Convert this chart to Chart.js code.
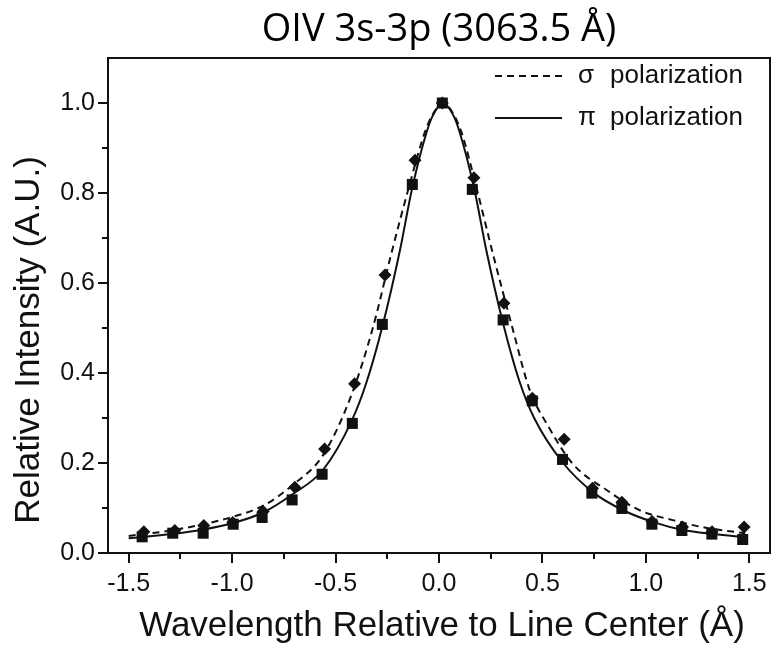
<!DOCTYPE html>
<html>
<head>
<meta charset="utf-8">
<script src="https://cdn.jsdelivr.net/npm/chart.js@4/dist/chart.umd.min.js"></script>
<style>
	html, body { margin: 0; padding: 0; background: #fff; }
	#wrap { width: 772px; height: 649px; }
</style>
</head>
<body>
<div id="wrap"><canvas id="lineProfile" width="772" height="649"></canvas></div>
<script>
// Measured points (squares = pi, diamonds = sigma)
const piX = [-1.435, -1.287, -1.140, -0.995, -0.855, -0.710, -0.565, -0.419, -0.274, -0.129, 0.016, 0.161, 0.310, 0.451, 0.597, 0.739, 0.884, 1.029, 1.174, 1.319, 1.468];
const piY = [0.036, 0.044, 0.044, 0.064, 0.079, 0.118, 0.175, 0.288, 0.508, 0.819, 1.000, 0.808, 0.518, 0.338, 0.208, 0.133, 0.099, 0.064, 0.050, 0.042, 0.030];

const sigmaX = [-1.427, -1.277, -1.137, -0.997, -0.850, -0.697, -0.553, -0.408, -0.261, -0.116, 0.016, 0.169, 0.314, 0.451, 0.605, 0.742, 0.884, 1.030, 1.177, 1.320, 1.475];
const sigmaY = [0.047, 0.050, 0.061, 0.068, 0.092, 0.146, 0.231, 0.376, 0.618, 0.873, 1.000, 0.834, 0.555, 0.344, 0.253, 0.144, 0.113, 0.070, 0.058, 0.047, 0.058];

// Fitted profiles
const piFitX = [-1.50, -1.29, -1.14, -1.00, -0.85, -0.71, -0.56, -0.42, -0.35, -0.27, -0.19, -0.13, -0.06, -0.03, 0.02, 0.07, 0.10, 0.17, 0.23, 0.31, 0.39, 0.46, 0.60, 0.75, 0.89, 1.04, 1.18, 1.33, 1.48];
const piFitY = [0.033, 0.042, 0.052, 0.066, 0.090, 0.130, 0.185, 0.296, 0.380, 0.510, 0.670, 0.810, 0.935, 0.972, 1.000, 0.972, 0.935, 0.810, 0.670, 0.510, 0.380, 0.300, 0.200, 0.133, 0.095, 0.068, 0.051, 0.042, 0.035];

const sigmaFitX = [-1.50, -1.27, -1.00, -0.85, -0.71, -0.56, -0.42, -0.32, -0.23, -0.145, -0.07, -0.03, 0.02, 0.07, 0.11, 0.18, 0.26, 0.355, 0.44, 0.52, 0.645, 0.81, 0.97, 1.13, 1.29, 1.48];
const sigmaFitY = [0.038, 0.052, 0.080, 0.105, 0.150, 0.218, 0.355, 0.500, 0.666, 0.814, 0.933, 0.975, 1.000, 0.975, 0.933, 0.814, 0.666, 0.500, 0.360, 0.288, 0.199, 0.140, 0.095, 0.073, 0.056, 0.044];

// Axis ticks
const xTicks = [-1.5, -1.0, -0.5, 0.0, 0.5, 1.0, 1.5];
const yTicks = [0.0, 0.2, 0.4, 0.6, 0.8, 1.0];
const xMinorTicks = [-1.25, -0.75, -0.25, 0.25, 0.75, 1.25];
const yMinorTicks = [0.1, 0.3, 0.5, 0.7, 0.9];

const legendEntries = [
	{ symbol: "σ", text: "polarization", dash: [7, 5] },
	{ symbol: "π", text: "polarization", dash: [] },
];

const INK = "#111";
const SANS = "'Liberation Sans', Arial, sans-serif";

function toPoints(xs, ys) {
	return xs.map((x, i) => ({ x: x, y: ys[i] }));
}

// Frame, minor ticks, axis titles and legend
const extrasPlugin = {
	id: "extras",
	afterDraw: function (chart) {
		const ctx = chart.ctx;
		const area = chart.chartArea;
		const xs = chart.scales.x;
		const ys = chart.scales.y;

		ctx.save();
		ctx.strokeStyle = INK;
		ctx.lineWidth = 2;

		// top and right edges of the box
		ctx.beginPath();
		ctx.moveTo(area.left, area.top);
		ctx.lineTo(area.right, area.top);
		ctx.lineTo(area.right, area.bottom);
		ctx.stroke();

		// minor ticks
		ctx.beginPath();
		xMinorTicks.forEach((v) => {
			const px = Math.round(xs.getPixelForValue(v));
			ctx.moveTo(px, area.bottom);
			ctx.lineTo(px, area.bottom + 6);
		});
		yMinorTicks.forEach((v) => {
			const py = Math.round(ys.getPixelForValue(v));
			ctx.moveTo(area.left, py);
			ctx.lineTo(area.left - 6, py);
		});
		ctx.stroke();

		// axis titles
		ctx.fillStyle = INK;
		ctx.font = "35px " + SANS;
		ctx.textAlign = "center";
		ctx.textBaseline = "middle";
		ctx.fillText("Wavelength Relative to Line Center (Å)", 442, 626);
		ctx.translate(29, 340);
		ctx.rotate(-Math.PI / 2);
		ctx.fillText("Relative Intensity (A.U.)", 0, 0);
		ctx.restore();

		// legend
		ctx.save();
		ctx.strokeStyle = INK;
		ctx.fillStyle = INK;
		ctx.lineWidth = 2;
		ctx.font = "26px " + SANS;
		ctx.textBaseline = "middle";
		legendEntries.forEach((entry, i) => {
			const y = 76 + i * 42;
			ctx.setLineDash(entry.dash);
			ctx.beginPath();
			ctx.moveTo(495, y);
			ctx.lineTo(562, y);
			ctx.stroke();
			ctx.setLineDash([]);
			ctx.textAlign = "left";
			ctx.fillText(entry.symbol, 578, y);
			ctx.fillText(entry.text, 610, y);
		});
		ctx.restore();
	},
};

const profileChart = new Chart(document.getElementById("lineProfile").getContext("2d"), {
	type: "scatter",
	data: {
		datasets: [
			{
				// pi measured
				data: toPoints(piX, piY),
				pointStyle: "rect",
				pointRadius: 7.8,
				backgroundColor: INK,
				borderColor: INK,
				borderWidth: 0,
			},
			{
				// sigma measured
				data: toPoints(sigmaX, sigmaY),
				pointStyle: "rectRot",
				pointRadius: 6.5,
				backgroundColor: INK,
				borderColor: INK,
				borderWidth: 0,
			},
			{
				data: toPoints(piFitX, piFitY),
				showLine: true,
				pointRadius: 0,
				borderColor: INK,
				borderWidth: 2,
				cubicInterpolationMode: "monotone",
				fill: false,
			},
			{
				data: toPoints(sigmaFitX, sigmaFitY),
				showLine: true,
				pointRadius: 0,
				borderColor: INK,
				borderWidth: 2,
				borderDash: [7, 5],
				cubicInterpolationMode: "monotone",
				fill: false,
			},
		],
	},
	options: {
		responsive: false,
		animation: false,
		layout: {
			autoPadding: false,
			padding: { left: 0, right: 2, top: 0, bottom: 0 },
		},
		plugins: {
			legend: { display: false },
			tooltip: { enabled: false },
			title: {
				display: true,
				text: "OIV 3s-3p (3063.5 Å)",
				fullSize: false,
				color: "#000",
				font: { family: "'Open Sans', sans-serif", size: 38, weight: "normal", lineHeight: 1.2 },
				padding: { top: 7, bottom: 5.4 },
			},
		},
		scales: {
			x: {
				type: "linear",
				min: -1.6,
				max: 1.6,
				afterBuildTicks: function (scale) {
					scale.ticks = xTicks.map((v) => ({ value: v }));
				},
				afterFit: function (scale) {
					scale.height = 96;
					scale.paddingLeft = 0;
					scale.paddingRight = 0;
				},
				ticks: {
					callback: (v) => v.toFixed(1),
					color: INK,
					font: { family: SANS, size: 25 },
					padding: 6,
					maxRotation: 0,
					autoSkip: false,
				},
				grid: { drawOnChartArea: false, tickLength: 10, color: INK, lineWidth: 2 },
				border: { color: INK, width: 2 },
			},
			y: {
				type: "linear",
				min: 0,
				max: 1.1,
				afterBuildTicks: function (scale) {
					scale.ticks = yTicks.map((v) => ({ value: v }));
				},
				afterFit: function (scale) {
					scale.width = 108;
					scale.paddingTop = 0;
					scale.paddingBottom = 0;
				},
				ticks: {
					callback: (v) => v.toFixed(1),
					color: INK,
					font: { family: SANS, size: 25 },
					padding: 3,
				},
				grid: { drawOnChartArea: false, tickLength: 10, color: INK, lineWidth: 2 },
				border: { color: INK, width: 2 },
			},
		},
	},
	plugins: [extrasPlugin],
});
</script>
</body>
</html>
